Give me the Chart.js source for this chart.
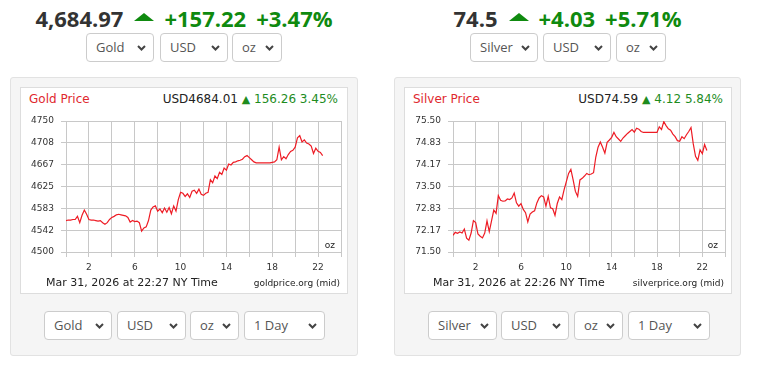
<!DOCTYPE html>
<html>
<head>
<meta charset="utf-8">
<script src="https://cdn.jsdelivr.net/npm/chart.js@4.4.1/dist/chart.umd.min.js"></script>
<style>
  body { margin: 0; width: 759px; height: 369px; background: #fff; position: relative; overflow: hidden; font-family: "Open Sans", sans-serif; }
  .head { position: absolute; top: 4px; text-align: center; font-size: 22px; font-weight: 700; line-height: 28px; color: #333; white-space: nowrap; }
  .head .up { color: #0f8a0f; margin-left: 10px; }
  .tri { display: inline-block; width: 0; height: 0; border-left: 10px solid transparent; border-right: 10px solid transparent; border-bottom: 8px solid #0f8a0f; margin-left: 11px; vertical-align: 6px; }
  .sel { position: absolute; height: 29px; box-sizing: border-box; border: 1px solid #ccc; border-radius: 4px; background: #fff; font-size: 13px; line-height: 27px; color: #555; padding-left: 9px; }
  .sel svg { position: absolute; right: 7px; top: 11px; }
  .panel { position: absolute; top: 77px; height: 279px; box-sizing: border-box; background: #f5f5f5; border: 1px solid #e2e2e2; border-radius: 3px; }
  .box { position: absolute; top: 87px; height: 207px; width: 328px; box-sizing: border-box; background: #fff; border: 1px solid #ddd; }
  .txt { position: absolute; font-family: "DejaVu Sans", sans-serif; white-space: nowrap; }
  .title { top: 92px; font-size: 12px; line-height: 14px; color: #e0282e; }
  .price { top: 92px; font-size: 12px; line-height: 14px; color: #222; text-align: right; }
  .price .g { color: #1e8c1e; }
  .price .t { font-size: 11px; }
  .date { top: 276px; font-size: 11px; line-height: 13px; color: #222; }
  .src { top: 278px; font-size: 9px; line-height: 11px; color: #222; text-align: right; }
  .unit { top: 240px; font-size: 9px; line-height: 11px; color: #222; text-align: right; }
  canvas { position: absolute; top: 88px; }
</style>
</head>
<body>

<div class="panel" style="left:10px; width:348px;"></div>
<div class="panel" style="left:394px; width:347px;"></div>
<div class="box" style="left:20px;"></div>
<div class="box" style="left:404px;"></div>

<div class="head" style="left:10px; width:348px;">4,684.97<span class="tri"></span><span class="up">+157.22</span><span class="up">+3.47%</span></div>
<div class="head" style="left:394px; width:347px;">74.5<span class="tri"></span><span class="up">+4.03</span><span class="up">+5.71%</span></div>

<div class="txt title" style="left:29px;">Gold Price</div>
<div class="txt price" style="right:421px;">USD4684.01 <span class="g t">▲</span> <span class="g">156.26 3.45%</span></div>
<div class="txt title" style="left:413px;">Silver Price</div>
<div class="txt price" style="right:36px;">USD74.59 <span class="g t">▲</span> <span class="g">4.12 5.84%</span></div>

<canvas id="goldChart" width="326" height="205" style="left:21px;"></canvas>
<canvas id="silverChart" width="326" height="205" style="left:405px;"></canvas>

<div class="txt unit" style="right:424px;">oz</div>
<div class="txt unit" style="right:41px;">oz</div>
<div class="txt date" style="left:46px;">Mar 31, 2026 at 22:27 NY Time</div>
<div class="txt src" style="right:419px;">goldprice.org (mid)</div>
<div class="txt date" style="left:433px;">Mar 31, 2026 at 22:26 NY Time</div>
<div class="txt src" style="right:35px;">silverprice.org (mid)</div>

<script>
// one point every 12 minutes from midnight NY time
const stepHours = 0.2;
const xLabelHours = [2, 6, 10, 14, 18, 22];

const goldYLabels = ["4500", "4542", "4583", "4625", "4667", "4708", "4750"];
const goldValues = [
  4560, 4561, 4561, 4562, 4562, 4568, 4556, 4570, 4580, 4572,
  4562, 4561, 4561, 4560, 4559, 4560, 4556, 4553, 4556, 4562,
  4566, 4568, 4571, 4572, 4571, 4570, 4569, 4566, 4557, 4560,
  4558, 4559, 4556, 4540, 4546, 4548, 4560, 4580, 4586, 4588,
  4578, 4582, 4575, 4584, 4576, 4585, 4573, 4588, 4578, 4600,
  4614, 4612, 4606, 4611, 4604, 4616, 4618, 4612, 4620, 4610,
  4608, 4612, 4614, 4638, 4632, 4645, 4640, 4652, 4648, 4660,
  4656, 4668, 4666, 4671, 4672, 4674, 4675, 4677, 4682, 4684,
  4680, 4676, 4672, 4670, 4670, 4670, 4670, 4670, 4670, 4670,
  4671, 4672, 4676, 4700, 4676, 4682, 4678, 4686, 4692, 4694,
  4700, 4718, 4722, 4710, 4714, 4708, 4706, 4702, 4688, 4698,
  4692, 4690, 4684
];

const silverYLabels = ["71.50", "72.17", "72.83", "73.50", "74.17", "74.83", "75.50"];
const silverValues = [
  72.01, 72.10, 72.07, 72.11, 72.08, 72.20, 71.92, 71.86, 72.08, 72.46,
  72.40, 72.05, 71.98, 71.93, 72.08, 72.45, 72.12, 72.45, 72.78, 72.68,
  73.22, 73.08, 73.05, 73.06, 73.12, 73.10, 73.15, 73.30, 73.00, 72.90,
  72.98, 72.80, 72.70, 72.42, 72.66, 72.72, 72.76, 73.00, 73.15, 73.22,
  73.18, 72.90, 73.20, 72.85, 72.82, 72.62, 72.98, 73.18, 73.10, 73.40,
  73.65, 73.90, 74.02, 73.70, 73.35, 73.20, 73.70, 73.75, 73.82, 73.90,
  73.86, 73.88, 73.92, 74.40, 74.70, 74.86, 74.70, 74.52, 74.85, 74.92,
  75.00, 75.15, 75.02, 74.95, 74.88, 74.98, 75.05, 75.12, 75.18, 75.24,
  75.16, 75.28, 75.25, 75.18, 75.15, 75.15, 75.15, 75.15, 75.15, 75.15,
  75.15, 75.32, 75.24, 75.48, 75.36, 75.26, 75.22, 75.10, 75.02, 74.90,
  74.88, 75.02, 74.96, 75.08, 75.18, 75.30, 74.80, 74.42, 74.30, 74.62,
  74.50, 74.78, 74.60
];

// fake <select> boxes
const chevron = '<svg width="9" height="6"><polyline points="1,1 4.5,4.5 8,1" fill="none" stroke="#444" stroke-width="2"/></svg>';
function addSelect(left, top, width, text) {
  const d = document.createElement("div");
  d.className = "sel";
  d.style.left = left + "px";
  d.style.top = top + "px";
  d.style.width = width + "px";
  d.innerHTML = text + chevron;
  document.body.appendChild(d);
}
addSelect(86, 33, 68, "Gold");
addSelect(160, 33, 68, "USD");
addSelect(232, 33, 50, "oz");
addSelect(470, 33, 68, "Silver");
addSelect(543, 33, 68, "USD");
addSelect(616, 33, 50, "oz");
addSelect(44, 311, 68, "Gold");
addSelect(117, 311, 69, "USD");
addSelect(190, 311, 49, "oz");
addSelect(244, 311, 81, "1 Day");
addSelect(428, 311, 69, "Silver");
addSelect(501, 311, 68, "USD");
addSelect(574, 311, 49, "oz");
addSelect(628, 311, 82, "1 Day");

Chart.defaults.font.family = "DejaVu Sans";
Chart.defaults.font.size = 9;
Chart.defaults.color = "#333";

function makeChart(id, values, yLabels, yAxisWidth) {
  const yMin = parseFloat(yLabels[0]);
  const yMax = parseFloat(yLabels[yLabels.length - 1]);
  return new Chart(document.getElementById(id), {
    type: "line",
    data: {
      datasets: [{
        data: values.map((v, i) => ({ x: i * stepHours, y: v })),
        borderColor: "#ee1c25",
        borderWidth: 1.2,
        pointRadius: 0,
        tension: 0,
        fill: false
      }]
    },
    options: {
      responsive: false,
      animation: false,
      layout: { padding: { top: 33, right: 6, bottom: 0, left: 0 } },
      plugins: { legend: { display: false }, tooltip: { enabled: false } },
      scales: {
        x: {
          type: "linear",
          min: 0,
          max: 24,
          border: { display: false },
          grid: { color: "#c8c8c8", tickLength: 5 },
          ticks: {
            stepSize: 2,
            autoSkip: false,
            maxRotation: 0,
            padding: 5,
            callback: (v) => (xLabelHours.includes(v) ? String(v) : "")
          },
          afterFit: (scale) => { scale.height = 41; }
        },
        y: {
          min: yMin,
          max: yMax,
          border: { display: false },
          grid: { color: "#c8c8c8", tickLength: 5 },
          afterBuildTicks: (scale) => {
            scale.ticks = yLabels.map((l, i) => ({ value: yMin + (yMax - yMin) * i / (yLabels.length - 1) }));
          },
          ticks: {
            padding: 7,
            callback: (v, i) => yLabels[i]
          },
          afterFit: (scale) => { scale.width = yAxisWidth; }
        }
      }
    }
  });
}

makeChart("goldChart", goldValues, goldYLabels, 45);
makeChart("silverChart", silverValues, silverYLabels, 48);
</script>
</body>
</html>
